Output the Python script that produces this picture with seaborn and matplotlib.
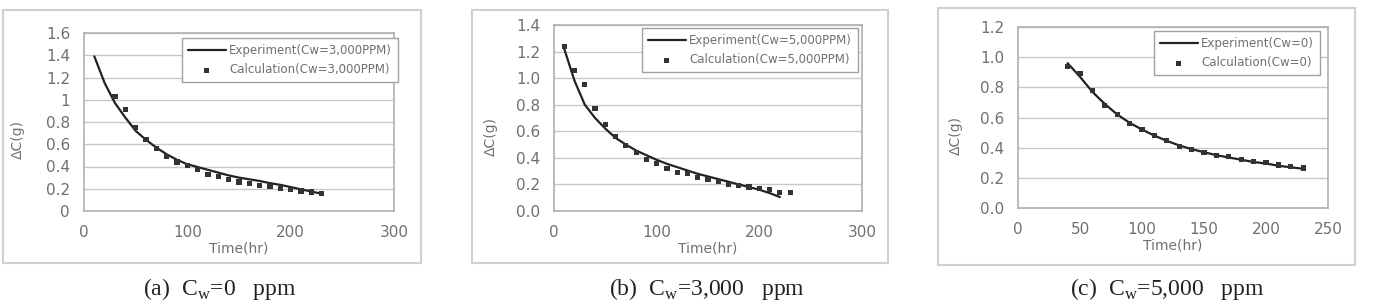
import numpy as np
import pandas as pd
import seaborn as sns
import matplotlib
matplotlib.use("Agg")
import matplotlib.pyplot as plt
from matplotlib.patches import Rectangle

# ---------------- data ----------------
# panel (a)
a_exp_t = [10, 20, 30, 40, 50, 60, 70, 80, 90, 100, 110, 120, 130, 140, 150, 160, 170, 180, 190, 200, 210, 220, 230]
a_exp_c = [1.39, 1.15, 0.97, 0.84, 0.72, 0.64, 0.57, 0.51, 0.46, 0.42, 0.395, 0.37, 0.345, 0.32, 0.30, 0.285, 0.27, 0.25, 0.235, 0.215, 0.195, 0.175, 0.155]
a_calc_t = [30, 40, 50, 60, 70, 80, 90, 100, 110, 120, 130, 140, 150, 160, 170, 180, 190, 200, 210, 220, 230]
a_calc_c = [1.03, 0.91, 0.75, 0.64, 0.56, 0.49, 0.44, 0.41, 0.37, 0.33, 0.31, 0.28, 0.26, 0.25, 0.23, 0.22, 0.20, 0.19, 0.18, 0.17, 0.16]

# panel (b)
b_exp_t = [10, 20, 30, 40, 50, 60, 70, 80, 90, 100, 110, 120, 130, 140, 150, 160, 170, 180, 190, 200, 210, 220]
b_exp_c = [1.22, 0.98, 0.80, 0.70, 0.62, 0.55, 0.50, 0.455, 0.42, 0.385, 0.355, 0.33, 0.305, 0.28, 0.26, 0.24, 0.22, 0.20, 0.18, 0.16, 0.135, 0.105]
b_calc_t = [10, 20, 30, 40, 50, 60, 70, 80, 90, 100, 110, 120, 130, 140, 150, 160, 170, 180, 190, 200, 210, 220, 230]
b_calc_c = [1.24, 1.06, 0.95, 0.77, 0.65, 0.56, 0.49, 0.44, 0.39, 0.36, 0.32, 0.29, 0.28, 0.25, 0.24, 0.22, 0.20, 0.19, 0.18, 0.17, 0.16, 0.14, 0.14]

# panel (c)
c_exp_t = [40, 50, 60, 70, 80, 90, 100, 110, 120, 130, 140, 150, 160, 170, 180, 190, 200, 210, 220, 230]
c_exp_c = [0.96, 0.87, 0.77, 0.69, 0.62, 0.565, 0.52, 0.48, 0.445, 0.415, 0.39, 0.37, 0.35, 0.335, 0.32, 0.305, 0.295, 0.28, 0.27, 0.26]
c_calc_t = [40, 50, 60, 70, 80, 90, 100, 110, 120, 130, 140, 150, 160, 170, 180, 190, 200, 210, 220, 230]
c_calc_c = [0.94, 0.89, 0.78, 0.68, 0.62, 0.56, 0.52, 0.48, 0.445, 0.41, 0.39, 0.37, 0.35, 0.34, 0.32, 0.31, 0.30, 0.285, 0.275, 0.265]

legend_exp = ["Experiment(Cw=3,000PPM)", "Experiment(Cw=5,000PPM)", "Experiment(Cw=0)"]
legend_calc = ["Calculation(Cw=3,000PPM)", "Calculation(Cw=5,000PPM)", "Calculation(Cw=0)"]
captions = [r"(a)  C$_{\mathregular{w}}$=0   ppm",
            r"(b)  C$_{\mathregular{w}}$=3,000   ppm",
            r"(c)  C$_{\mathregular{w}}$=5,000   ppm"]
x_ticks = [[0, 100, 200, 300], [0, 100, 200, 300], [0, 50, 100, 150, 200, 250]]
y_ticks = [[0, 0.2, 0.4, 0.6, 0.8, 1, 1.2, 1.4, 1.6],
           [0.0, 0.2, 0.4, 0.6, 0.8, 1.0, 1.2, 1.4],
           [0.0, 0.2, 0.4, 0.6, 0.8, 1.0, 1.2]]
y_ticklabels = [["0", "0.2", "0.4", "0.6", "0.8", "1", "1.2", "1.4", "1.6"],
                ["0.0", "0.2", "0.4", "0.6", "0.8", "1.0", "1.2", "1.4"],
                ["0.0", "0.2", "0.4", "0.6", "0.8", "1.0", "1.2"]]

# ---------------- style ----------------
sns.set_style("white")
plt.rcParams['font.family'] = ['DejaVu Sans']
plt.rcParams['mathtext.fontset'] = 'custom'
plt.rcParams['mathtext.rm'] = 'Liberation Serif'

W, H = 1396, 306
fig = plt.figure(figsize=(W / 100, H / 100), dpi=100)

def fx(px):
    return px / W

def fy(py):
    return 1 - py / H

axes_px = [(84, 33, 394, 211), (554, 25, 862, 211), (1018, 27, 1328, 208)]
frames_px = [(3, 10, 421, 263), (472, 10, 888, 263), (938, 8, 1355, 265)]
legend_anchor = [(0.316, 0.972), (0.286, 0.984), (0.439, 0.978)]
ylabel_pos = [(-0.19, 0.404), (-0.182, 0.398), (-0.177, 0.398)]
caption_x = [220, 707, 1167]

datasets = [
    (a_exp_t, a_exp_c, a_calc_t, a_calc_c),
    (b_exp_t, b_exp_c, b_calc_t, b_calc_c),
    (c_exp_t, c_exp_c, c_calc_t, c_calc_c),
]

gray_text = "#707070"
for i in range(3):
    # outer frame
    x0, y0, x1, y1 = frames_px[i]
    fig.patches.append(Rectangle((fx(x0), fy(y1)), fx(x1 - x0), (y1 - y0) / H,
                                 transform=fig.transFigure, fill=False,
                                 edgecolor="#d0d0d0", linewidth=1.5))
    l, t, r, b = axes_px[i]
    ax = fig.add_axes([fx(l), fy(b), fx(r - l), (b - t) / H])
    et, ec, ct, cc = datasets[i]
    df_e = pd.DataFrame({"t": et, "c": ec})
    df_c = pd.DataFrame({"t": ct, "c": cc})
    sns.lineplot(data=df_e, x="t", y="c", ax=ax, color="#222222", linewidth=1.6,
                 label=legend_exp[i], zorder=3)
    sns.scatterplot(data=df_c, x="t", y="c", ax=ax, color="#333333", marker="s",
                    s=14, edgecolor="none", label=legend_calc[i], zorder=4)
    ax.set_xlim(x_ticks[i][0], x_ticks[i][-1])
    ax.set_ylim(y_ticks[i][0], y_ticks[i][-1])
    ax.set_xticks(x_ticks[i])
    ax.set_yticks(y_ticks[i])
    ax.set_yticklabels(y_ticklabels[i])
    ax.yaxis.grid(True, color="#c8c8c8", linewidth=1.0)
    ax.xaxis.grid(False)
    for s in ax.spines.values():
        s.set_color("#b0b0b0")
        s.set_linewidth(1.2)
    ax.tick_params(axis="x", direction="in", length=3, color="#b0b0b0", pad=10,
                   labelsize=11, labelcolor=gray_text)
    ax.tick_params(axis="y", length=0, pad=10, labelsize=11, labelcolor=gray_text)
    ax.set_xlabel("Time(hr)", fontsize=10, color=gray_text, labelpad=1)
    ax.set_ylabel("ΔC(g)", fontsize=10, color=gray_text)
    ax.yaxis.set_label_coords(*ylabel_pos[i])
    leg = ax.legend(loc="upper left", bbox_to_anchor=legend_anchor[i], borderaxespad=0,
                    fontsize=8.5, frameon=True, fancybox=False, framealpha=1,
                    edgecolor="#a0a0a0", handlelength=3.2, handletextpad=0.3,
                    borderpad=0.5, labelspacing=0.55)
    leg.get_frame().set_linewidth(1.0)
    for txt in leg.get_texts():
        txt.set_color(gray_text)
    fig.text(fx(caption_x[i]), fy(289), captions[i], ha="center", va="center",
             fontsize=17, family="Liberation Serif", color="#222222")

fig.savefig("out.png", dpi=100)
